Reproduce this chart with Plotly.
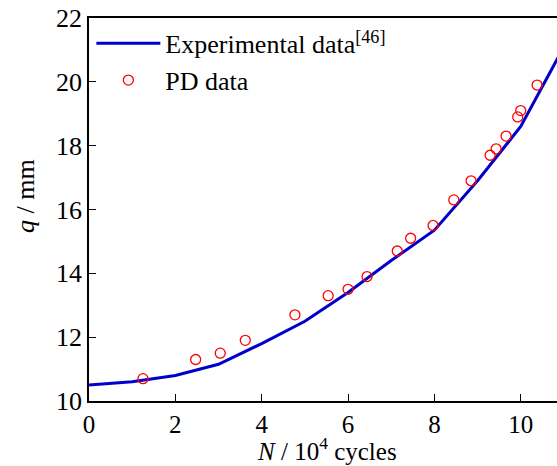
import plotly.graph_objects as go

# Experimental curve
exp_x = [0, 1, 2, 3, 4, 5, 6, 7, 8, 9, 10, 11]
exp_y = [10.5, 10.6, 10.8, 11.15, 11.8, 12.5, 13.4, 14.4, 15.35, 16.9, 18.6, 21.1]

# PD data points
pd_x = [1.25, 2.47, 3.04, 3.62, 4.77, 5.54, 6.0, 6.44, 7.14, 7.45, 7.97, 8.45,
        8.85, 9.29, 9.43, 9.66, 9.93, 10.0, 10.38]
pd_y = [10.7, 11.3, 11.5, 11.9, 12.7, 13.3, 13.5, 13.9, 14.7, 15.1, 15.5, 16.3,
        16.9, 17.7, 17.9, 18.3, 18.9, 19.1, 19.9]

x_ticks = [0, 2, 4, 6, 8, 10]
y_ticks = [10, 12, 14, 16, 18, 20, 22]

FONT = "Liberation Serif, Times New Roman, serif"
FS = 26

fig = go.Figure()
fig.add_trace(go.Scatter(x=exp_x, y=exp_y, mode="lines",
                         line=dict(color="#0000CC", width=3),
                         name="Experimental data<sup>[46]</sup>"))
fig.add_trace(go.Scatter(x=pd_x, y=pd_y, mode="markers",
                         marker=dict(symbol="circle-open", size=10,
                                     color="#FF0000", line=dict(width=1.3, color="#FF0000")),
                         name="PD data"))

fig.update_layout(
    width=557, height=466,
    margin=dict(l=89, r=0, t=18, b=65),
    paper_bgcolor="white", plot_bgcolor="white",
    font=dict(family=FONT, size=FS, color="black"),
    showlegend=True,
    legend=dict(x=0.005, y=0.995, xanchor="left", yanchor="top",
                bgcolor="rgba(0,0,0,0)", font=dict(family=FONT, size=FS),
                itemwidth=64, tracegroupgap=0),
    xaxis=dict(range=[0, 10.84], tickvals=x_ticks, ticks="inside", ticklen=7,
               tickwidth=1, tickcolor="black", showline=True, linecolor="black",
               linewidth=1.5, mirror=True, showgrid=False, zeroline=False,
               tickfont=dict(family=FONT, size=25)),
    yaxis=dict(range=[10, 22], tickvals=y_ticks, ticks="inside", ticklen=7,
               tickwidth=1, tickcolor="black", showline=True, linecolor="black",
               linewidth=1.5, mirror=False, showgrid=False, zeroline=False,
               tickfont=dict(family=FONT, size=FS)),
    annotations=[
        dict(text="<i>q</i> / mm", xref="paper", yref="paper",
             x=-0.137, y=0.535, xanchor="center", yanchor="middle",
             textangle=-90, showarrow=False,
             font=dict(family=FONT, size=FS)),
        dict(text="<i>N</i> / 10<sup>4</sup> cycles", xref="paper", yref="paper",
             x=0.508, y=-0.169, xanchor="center", yanchor="bottom",
             showarrow=False, borderpad=0,
             font=dict(family=FONT, size=25)),
    ],
)

fig.write_html("out.html")
